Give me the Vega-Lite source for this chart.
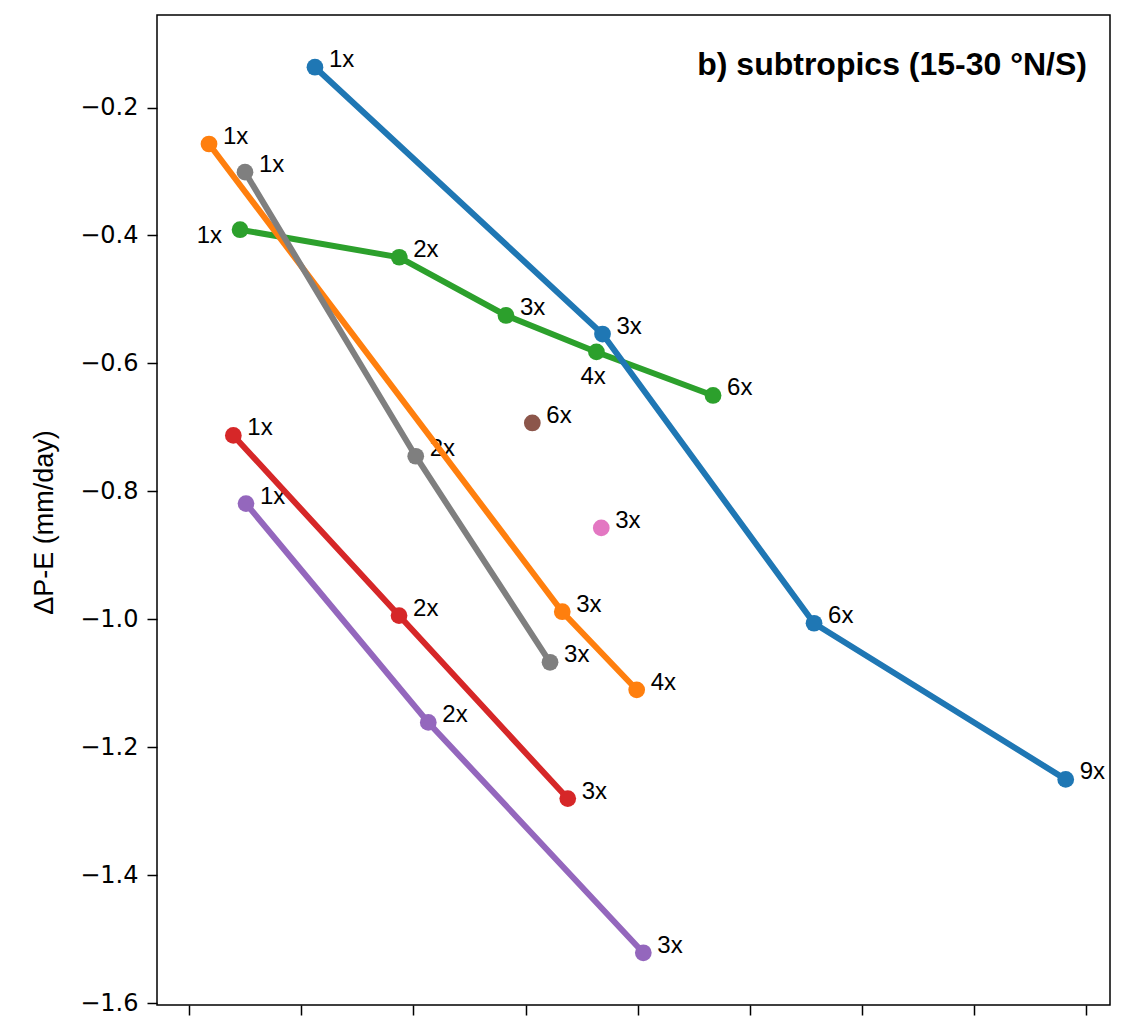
{
  "$schema": "https://vega.github.io/schema/vega-lite/v6.json",
  "width": 953,
  "height": 990,
  "autosize": "none",
  "padding": {"left": 157, "top": 15, "right": 13, "bottom": 11},
  "background": "white",
  "config": {"view": {"stroke": "black", "strokeWidth": 1.5}, "font": "Liberation Sans"},
  "title": {
    "text": "b) subtropics (15-30 °N/S)",
    "anchor": "end",
    "frame": "group",
    "orient": "top",
    "offset": -92,
    "baseline": "alphabetic",
    "dx": -23,
    "fontSize": 32,
    "fontWeight": "bold",
    "font": "Liberation Sans",
    "color": "black"
  },
  "data": {
    "values": [
      {"series": "A", "label": "1x", "x": 0.453, "y": -0.391},
      {"series": "A", "label": "2x", "x": 1.873, "y": -0.434},
      {"series": "A", "label": "3x", "x": 2.825, "y": -0.525},
      {"series": "A", "label": "4x", "x": 3.632, "y": -0.582},
      {"series": "A", "label": "6x", "x": 4.672, "y": -0.650},
      {"series": "B", "label": "1x", "x": 0.176, "y": -0.257},
      {"series": "B", "label": "3x", "x": 3.327, "y": -0.988},
      {"series": "B", "label": "4x", "x": 3.991, "y": -1.110},
      {"series": "C", "label": "1x", "x": 0.497, "y": -0.301},
      {"series": "C", "label": "2x", "x": 2.020, "y": -0.745},
      {"series": "C", "label": "3x", "x": 3.218, "y": -1.067},
      {"series": "D", "label": "1x", "x": 1.121, "y": -0.137},
      {"series": "D", "label": "3x", "x": 3.686, "y": -0.554},
      {"series": "D", "label": "6x", "x": 5.573, "y": -1.006},
      {"series": "D", "label": "9x", "x": 7.818, "y": -1.250},
      {"series": "E", "label": "1x", "x": 0.393, "y": -0.7125},
      {"series": "E", "label": "2x", "x": 1.871, "y": -0.994},
      {"series": "E", "label": "3x", "x": 3.376, "y": -1.280},
      {"series": "F", "label": "1x", "x": 0.506, "y": -0.819},
      {"series": "F", "label": "2x", "x": 2.132, "y": -1.161},
      {"series": "F", "label": "3x", "x": 4.050, "y": -1.521},
      {"series": "G", "label": "6x", "x": 3.060, "y": -0.693},
      {"series": "H", "label": "3x", "x": 3.675, "y": -0.857}
    ]
  },
  "encoding": {
    "x": {
      "field": "x",
      "type": "quantitative",
      "scale": {"domain": [-0.288, 8.213], "nice": false, "zero": false},
      "axis": {
        "values": [0, 1, 2, 3, 4, 5, 6, 7, 8],
        "labels": false,
        "title": null,
        "grid": false,
        "domain": false,
        "tickSize": 10,
        "tickColor": "black",
        "tickWidth": 1.5
      }
    },
    "y": {
      "field": "y",
      "type": "quantitative",
      "scale": {"domain": [-1.6026, -0.0554], "nice": false, "zero": false},
      "axis": {
        "values": [-1.6, -1.4, -1.2, -1.0, -0.8, -0.6, -0.4, -0.2],
        "format": ".1f",
        "grid": false,
        "domain": false,
        "tickSize": 10,
        "tickColor": "black",
        "tickWidth": 1.5,
        "labelFontSize": 24,
        "labelColor": "black",
        "labelFont": "DejaVu Sans",
        "labelPadding": 9,
        "title": "ΔP-E  (mm/day)",
        "titleFont": "Liberation Sans",
        "titleFontSize": 27,
        "titleFontWeight": "normal",
        "titleColor": "black",
        "titlePadding": 21,
        "titleY": 507
      }
    }
  },
  "layer": [
    {
      "transform": [{"filter": "!(datum.series == 'A' && (datum.label == '1x' || datum.label == '4x'))"}],
      "mark": {"type": "text", "align": "left", "baseline": "alphabetic", "dx": 14, "fontSize": 24, "color": "black", "font": "Liberation Sans"},
      "encoding": {"text": {"field": "label"}}
    },
    {
      "transform": [{"filter": "datum.series == 'A' && datum.label == '1x'"}],
      "mark": {"type": "text", "align": "right", "baseline": "alphabetic", "dx": -18, "dy": 13, "fontSize": 24, "color": "black", "font": "Liberation Sans"},
      "encoding": {"text": {"field": "label"}}
    },
    {
      "transform": [{"filter": "datum.series == 'A' && datum.label == '4x'"}],
      "mark": {"type": "text", "align": "left", "baseline": "alphabetic", "dx": -16, "dy": 32, "fontSize": 24, "color": "black", "font": "Liberation Sans"},
      "encoding": {"text": {"field": "label"}}
    },
    {
      "mark": {"type": "line", "strokeWidth": 6, "point": {"size": 280, "filled": true, "opacity": 1}},
      "encoding": {
        "color": {
          "field": "series",
          "type": "nominal",
          "scale": {
            "domain": ["A", "B", "C", "D", "E", "F", "G", "H"],
            "range": ["#2ca02c", "#ff7f0e", "#7f7f7f", "#1f77b4", "#d62728", "#9467bd", "#8c564b", "#e377c2"]
          },
          "legend": null
        }
      }
    }
  ]
}
